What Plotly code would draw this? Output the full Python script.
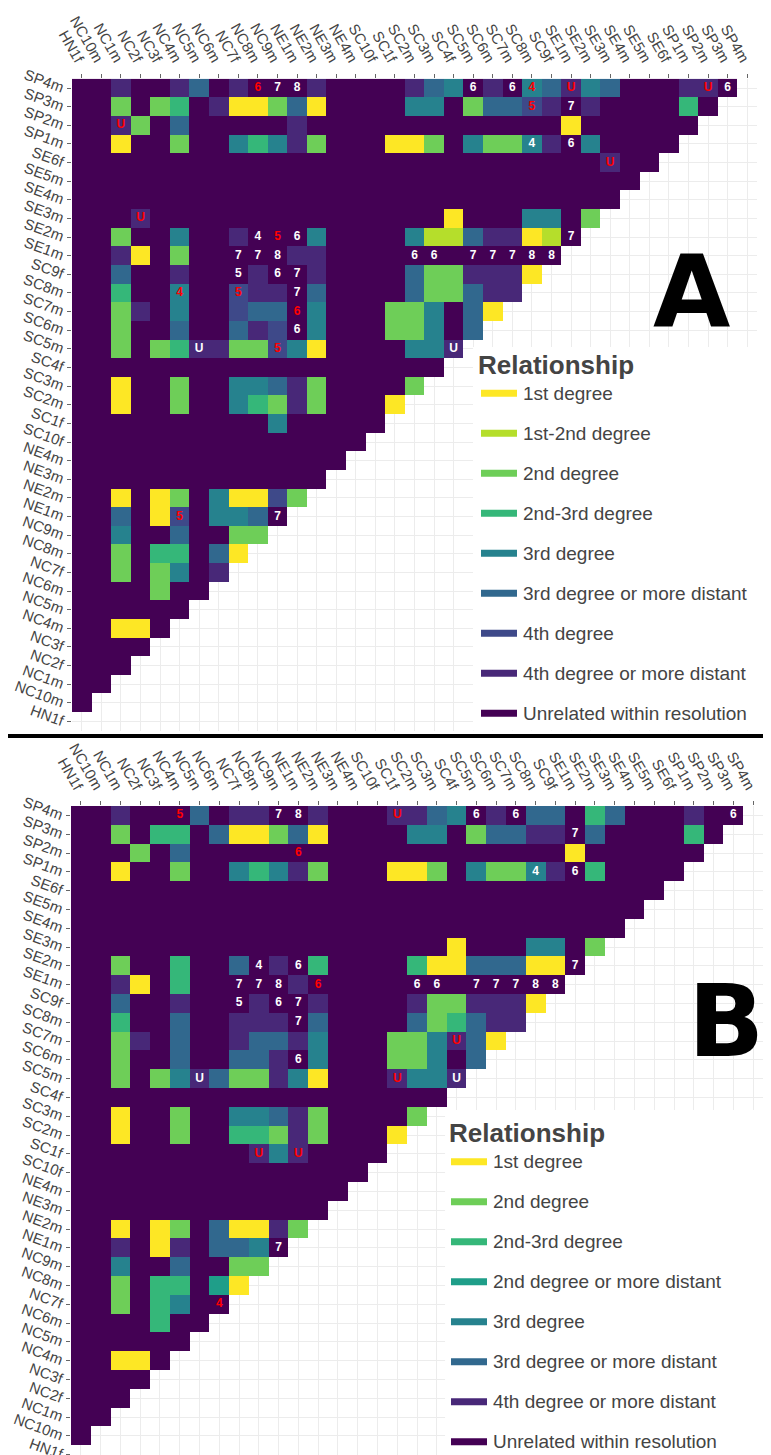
import plotly.graph_objects as go

# page is shown with the browser's default 8px body margin
OFF = 8
FW, FH = 771 - OFF, 1455 - OFF
FONT = "Liberation Sans, Arial, sans-serif"

NAMES = ["HN1f", "NC10m", "NC1m", "NC2f", "NC3f", "NC4m", "NC5m", "NC6m", "NC7f", "NC8m",
         "NC9m", "NE1m", "NE2m", "NE3m", "NE4m", "SC10f", "SC1f", "SC2m", "SC3m", "SC4f",
         "SC5m", "SC6m", "SC7m", "SC8m", "SC9f", "SE1m", "SE2m", "SE3m", "SE4m", "SE5m",
         "SE6f", "SP1m", "SP2m", "SP3m", "SP4m"]

CODE_LABELS = {"Y": "1st degree", "L": "1st-2nd degree", "G": "2nd degree",
               "T": "2nd-3rd degree", "E": "2nd degree or more distant",
               "C": "3rd degree", "D": "3rd degree or more distant", "F": "4th degree",
               "P": "4th degree or more distant", "U": "Unrelated within resolution"}
CODE_COLORS = {"Y": "#fde725", "L": "#b5de2b", "G": "#6ece58", "T": "#35b779",
               "E": "#1f9e89", "C": "#26828e", "D": "#31688e", "F": "#3e4989",
               "P": "#482878", "U": "#440154"}
A_LEGEND = ["Y", "L", "G", "T", "C", "D", "F", "P", "U"]
B_LEGEND = ["Y", "G", "T", "E", "C", "D", "P", "U"]

# relationship codes per row (columns HN1f.. in NAMES order, lower triangle)
A_ROWS = {
    "NC10m": "U",
    "NC1m": "UU",
    "NC2f": "UUU",
    "NC3f": "UUUU",
    "NC4m": "UUYYU",
    "NC5m": "UUUUU U",
    "NC6m": "UUUUG UU",
    "NC7f": "UUGUG CUP",
    "NC8m": "UUGUT TUDY",
    "NC9m": "UUCUU DUUGG",
    "NE1m": "UUDUY FUCCD U",
    "NE2m": "UUYUY GUCYY FG",
    "NE3m": "UUUUU UUUUU UUU",
    "NE4m": "UUUUU UUUUU UUUU",
    "SC10f": "UUUUU UUUUU UUUUU",
    "SC1f": "UUUUU UUUUU CUUUU U",
    "SC2m": "UUYUU GUUCT GPGUU UY",
    "SC3m": "UUYUU GUUCC DPGUU UUG",
    "SC4f": "UUUUU UUUUU UUUUU UUUU",
    "SC5m": "UUGUG TPPGG FCYUU UUCCP",
    "SC6m": "UUGUU DUUDP FUCUU UGGCU D",
    "SC7m": "UUGPU CUUFD DUCUU UGGCU DY",
    "SC8m": "UUTUU CUUFP PUDUU UUDGG DPP",
    "SC9f": "UUDUU PUUUP UUPUU UUDGG PPPY",
    "SE1m": "UUPYU GUUUU UPPUU UUUUU UUUUU",
    "SE2m": "UUGUU CUUPU UUCUU UUCLL DPPYL U",
    "SE3m": "UUUPU UUUUU UUUUU UUUUY UUUCC UG",
    "SE4m": "UUUUU UUUUU UUUUU UUUUU UUUUU UUU",
    "SE5m": "UUUUU UUUUU UUUUU UUUUU UUUUU UUUU",
    "SE6f": "UUUUU UUUUU UUUUU UUUUU UUUUU UUPUU",
    "SP1m": "UUYUU GUUCT CPGUU UYYGU CGGCP UCUUU U",
    "SP2m": "UUPGU DUUUU UPUUU UUUUU UUUUU YUUUU UU",
    "SP3m": "UUGUG TUPYY GDYUU UUCCU GDDFP UPUUU UTU",
    "SP4m": "UUPUU PDUPU UUPUU UUPDC UPUCD PCDUU UPPU",
}

B_ROWS = {
    "NC10m": "U",
    "NC1m": "UU",
    "NC2f": "UUU",
    "NC3f": "UUUU",
    "NC4m": "UUYYU",
    "NC5m": "UUUUU U",
    "NC6m": "UUUUT UU",
    "NC7f": "UUGUT CUU",
    "NC8m": "UUGUT TUEY",
    "NC9m": "UUCUU DUUGG",
    "NE1m": "UUPUY PUDDC U",
    "NE2m": "UUYUY GUDYY PG",
    "NE3m": "UUUUU UUUUU UUU",
    "NE4m": "UUUUU UUUUU UUUU",
    "SC10f": "UUUUU UUUUU UUUUU",
    "SC1f": "UUUUU UUUUP CPUUU U",
    "SC2m": "UUYUU GUUTT GPGUU UY",
    "SC3m": "UUYUU GUUCC DPGUU UUG",
    "SC4f": "UUUUU UUUUU UUUUU UUUU",
    "SC5m": "UUGUG CPDGG PCYUU UPCCP",
    "SC6m": "UUGUU DUUDD PUCUU UGGCU D",
    "SC7m": "UUGPU DUUPD DPCUU UGGCP DY",
    "SC8m": "UUTUU DUUPP PUDUU UUDGT DPP",
    "SC9f": "UUDUU PUUUP UUPUU UUPGG PPPY",
    "SE1m": "UUPYU TUUUU UPUUU UUUUU UUUUU",
    "SE2m": "UUGUU TUUDU PUTUU UUTYY DDDYY U",
    "SE3m": "UUUUU UUUUU UUUUU UUUUY UUUCC UG",
    "SE4m": "UUUUU UUUUU UUUUU UUUUU UUUUU UUU",
    "SE5m": "UUUUU UUUUU UUUUU UUUUU UUUUU UUUU",
    "SE6f": "UUUUU UUUUU UUUUU UUUUU UUUUU UUUUU",
    "SP1m": "UUYUU GUUCT CPGUU UYYGU CGGCP UTUUU U",
    "SP2m": "UUUGU DUUUU UUUUU UUUUU UUUUU YUUUU UU",
    "SP3m": "UUGUT TUDYY GDYUU UUCCU GDDPP UDUUU UTU",
    "SP4m": "UUPUU UDUPP UUPUU UPPDC UPUDD UTDUU UPUU",
}

# (row, column, label, colour: w=white r=red)
A_TEXT = [
    ("SP4m", "NC8m", "6", "r"), ("SP4m", "NC9m", "7", "w"), ("SP4m", "NE1m", "8", "w"),
    ("SP4m", "SC5m", "6", "w"), ("SP4m", "SC7m", "6", "w"), ("SP4m", "SC8m", "4", "r"),
    ("SP4m", "SE1m", "U", "r"), ("SP4m", "SP2m", "U", "r"), ("SP4m", "SP3m", "6", "w"),
    ("SP3m", "SC8m", "5", "r"), ("SP3m", "SE1m", "7", "w"),
    ("SP2m", "NC1m", "U", "r"),
    ("SP1m", "SC8m", "4", "w"), ("SP1m", "SE1m", "6", "w"),
    ("SE6f", "SE3m", "U", "r"),
    ("SE3m", "NC2f", "U", "r"),
    ("SE2m", "NC8m", "4", "w"), ("SE2m", "NC9m", "5", "r"), ("SE2m", "NE1m", "6", "w"),
    ("SE2m", "SE1m", "7", "w"),
    ("SE1m", "NC7f", "7", "w"), ("SE1m", "NC8m", "7", "w"), ("SE1m", "NC9m", "8", "w"),
    ("SE1m", "SC2m", "6", "w"), ("SE1m", "SC3m", "6", "w"), ("SE1m", "SC5m", "7", "w"),
    ("SE1m", "SC6m", "7", "w"), ("SE1m", "SC7m", "7", "w"), ("SE1m", "SC8m", "8", "w"),
    ("SE1m", "SC9f", "8", "w"),
    ("SC9f", "NC7f", "5", "w"), ("SC9f", "NC9m", "6", "w"), ("SC9f", "NE1m", "7", "w"),
    ("SC8m", "NC4m", "4", "r"), ("SC8m", "NC7f", "5", "r"), ("SC8m", "NE1m", "7", "w"),
    ("SC7m", "NE1m", "6", "r"),
    ("SC6m", "NE1m", "6", "w"),
    ("SC5m", "NC5m", "U", "w"), ("SC5m", "NC9m", "5", "r"), ("SC5m", "SC4f", "U", "w"),
    ("NE1m", "NC4m", "5", "r"), ("NE1m", "NC9m", "7", "w"),
]

B_TEXT = [
    ("SP4m", "NC4m", "5", "r"), ("SP4m", "NC9m", "7", "w"), ("SP4m", "NE1m", "8", "w"),
    ("SP4m", "SC1f", "U", "r"), ("SP4m", "SC5m", "6", "w"), ("SP4m", "SC7m", "6", "w"),
    ("SP4m", "SP3m", "6", "w"),
    ("SP3m", "SE1m", "7", "w"),
    ("SP2m", "NE1m", "6", "r"),
    ("SP1m", "SC8m", "4", "w"), ("SP1m", "SE1m", "6", "w"),
    ("SE2m", "NC8m", "4", "w"), ("SE2m", "NE1m", "6", "w"), ("SE2m", "SE1m", "7", "w"),
    ("SE1m", "NC7f", "7", "w"), ("SE1m", "NC8m", "7", "w"), ("SE1m", "NC9m", "8", "w"),
    ("SE1m", "NE2m", "6", "r"),
    ("SE1m", "SC2m", "6", "w"), ("SE1m", "SC3m", "6", "w"), ("SE1m", "SC5m", "7", "w"),
    ("SE1m", "SC6m", "7", "w"), ("SE1m", "SC7m", "7", "w"), ("SE1m", "SC8m", "8", "w"),
    ("SE1m", "SC9f", "8", "w"),
    ("SC9f", "NC7f", "5", "w"), ("SC9f", "NC9m", "6", "w"), ("SC9f", "NE1m", "7", "w"),
    ("SC8m", "NE1m", "7", "w"),
    ("SC7m", "SC4f", "U", "r"),
    ("SC6m", "NE1m", "6", "w"),
    ("SC5m", "NC5m", "U", "w"), ("SC5m", "SC1f", "U", "r"), ("SC5m", "SC4f", "U", "w"),
    ("SC1f", "NC8m", "U", "r"), ("SC1f", "NE1m", "U", "r"),
    ("NE1m", "NC9m", "7", "w"),
    ("NC7f", "NC6m", "4", "r"),
]

TEXT_COLORS = {"w": "#ffffff", "r": "#ff0000"}


def px_x(px):
    """screen pixel -> paper x"""
    return (px - OFF) / FW


def px_y(py):
    """screen pixel -> paper y"""
    return 1 - (py - OFF) / FH


def build_z(rows, order):
    z = []
    for name in NAMES:
        codes = rows.get(name, "").replace(" ", "")
        z.append([order.index(codes[j]) if j < len(codes) else None
                  for j in range(len(NAMES))])
    return z


def discrete_scale(order):
    n = len(order)
    cs = []
    for k, c in enumerate(order):
        cs.append([k / n, CODE_COLORS[c]])
        cs.append([(k + 1) / n, CODE_COLORS[c]])
    return cs


fig = go.Figure()

panels = [
    ("x", "y", A_ROWS, A_LEGEND, A_TEXT),
    ("x2", "y2", B_ROWS, B_LEGEND, B_TEXT),
]
for xa, ya, rows, order, texts in panels:
    fig.add_trace(go.Heatmap(
        z=build_z(rows, order), x=NAMES, y=NAMES, xaxis=xa, yaxis=ya,
        colorscale=discrete_scale(order), zmin=-0.5, zmax=len(order) - 0.5,
        showscale=False, hoverongaps=False, xgap=0, ygap=0))
    fig.add_trace(go.Scatter(
        x=[t[1] for t in texts], y=[t[0] for t in texts], xaxis=xa, yaxis=ya,
        mode="text", text=["<b>%s</b>" % t[2] for t in texts],
        textfont=dict(color=[TEXT_COLORS[t[3]] for t in texts], size=12, family=FONT),
        showlegend=False, hoverinfo="skip"))


def xaxis(domain, anchor):
    return dict(domain=domain, anchor=anchor, side="top", type="category",
                categoryorder="array", categoryarray=NAMES, range=[-0.5, 34.5],
                tickangle=60, ticks="outside", ticklen=4, tickcolor="#666",
                tickfont=dict(size=15, color="#444", family=FONT),
                showgrid=True, gridcolor="#ececec", gridwidth=1, zeroline=False,
                showline=False, automargin=False, fixedrange=True)


def yaxis(domain, anchor, rng):
    return dict(domain=domain, anchor=anchor, type="category",
                categoryorder="array", categoryarray=NAMES, range=rng,
                tickangle=20, ticks="outside", ticklen=4, tickcolor="#666",
                tickfont=dict(size=15, color="#444", family=FONT),
                showgrid=True, gridcolor="#ececec", gridwidth=1, zeroline=False,
                showline=False, automargin=False, fixedrange=True)


shapes = []
annotations = []

# legend backgrounds (hide gridlines behind the legends), in category units
shapes.append(dict(type="rect", xref="x", yref="y", x0=19.99, x1=34.5, y0=-0.5, y1=20.1,
                   fillcolor="white", line=dict(width=0), layer="between"))
shapes.append(dict(type="rect", xref="x2", yref="y2", x0=18.42, x1=34.5, y0=-0.5, y1=18.33,
                   fillcolor="white", line=dict(width=0), layer="between"))

legends = [
    (A_LEGEND, 478, 365, 481, 393.3),
    (B_LEGEND, 449, 1133, 451, 1161.7),
]
for order, tx, ty, sx, sy in legends:
    annotations.append(dict(x=px_x(tx - 2), y=px_y(ty), xref="paper", yref="paper",
                            xanchor="left", yanchor="middle", showarrow=False,
                            text="<b>Relationship</b>",
                            font=dict(size=26, color="#444", family=FONT)))
    for k, c in enumerate(order):
        yc = sy + 40 * k
        shapes.append(dict(type="rect", xref="paper", yref="paper",
                           x0=px_x(sx), x1=px_x(sx + 36), y0=px_y(yc + 3.5), y1=px_y(yc - 3.5),
                           fillcolor=CODE_COLORS[c], line=dict(width=0), layer="above"))
        annotations.append(dict(x=px_x(sx + 40), y=px_y(yc), xref="paper", yref="paper",
                                xanchor="left", yanchor="middle", showarrow=False,
                                text=CODE_LABELS[c],
                                font=dict(size=19, color="#444", family=FONT)))

# panel letters
LETTER_FONT = "DejaVu Sans, Liberation Sans, sans-serif"
annotations.append(dict(x=px_x(691), y=px_y(291), xref="paper", yref="paper",
                        xanchor="center", yanchor="middle", showarrow=False,
                        text="<b>A</b>", font=dict(size=100, color="black", family=LETTER_FONT)))
annotations.append(dict(x=px_x(726), y=px_y(1021), xref="paper", yref="paper",
                        xanchor="center", yanchor="middle", showarrow=False,
                        text="<b>B</b>", font=dict(size=100, color="black", family=LETTER_FONT)))

# separator between the panels
shapes.append(dict(type="line", xref="paper", yref="paper", x0=px_x(5), x1=1,
                   y0=px_y(736), y1=px_y(736), line=dict(color="black", width=4)))

B_ROW_H = 18.8
fig.update_layout(
    width=FW, height=FH, margin=dict(l=0, r=0, t=0, b=0),
    paper_bgcolor="white", plot_bgcolor="white", showlegend=False,
    font=dict(family=FONT, color="#444"),
    xaxis=xaxis([px_x(72), px_x(757)], "y"),
    yaxis=yaxis([px_y(730.8), px_y(78.7)], "x", [-0.5, 34.5]),
    xaxis2=xaxis([px_x(71), px_x(763)], "y2"),
    yaxis2=yaxis([0, px_y(806)], "x2", [34.5 - (1455 - 806) / B_ROW_H, 34.5]),
    shapes=shapes, annotations=annotations,
)

fig.write_html("out.html")
